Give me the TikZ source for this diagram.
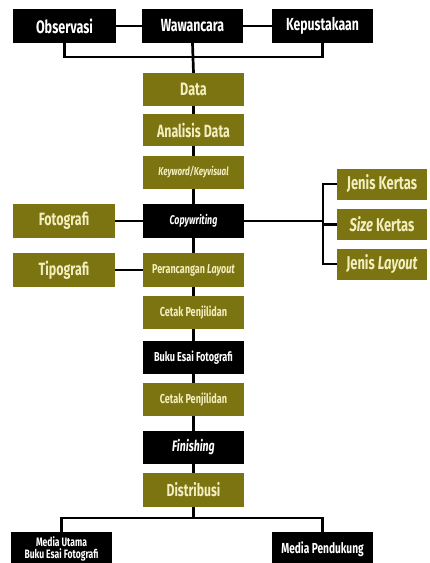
\documentclass[tikz,border=0pt]{standalone}
\usepackage{fontspec}
\setmainfont{Fira Sans}[FakeStretch=0.7]
\definecolor{olivebox}{HTML}{7B7410}
\definecolor{creamtext}{HTML}{F3EEC0}
\newcommand{\fs}[1]{\fontsize{#1}{#1}\selectfont\bfseries}
\begin{document}
\begin{tikzpicture}[x=1pt,y=-1pt,
  base/.style={inner sep=0pt, align=center, minimum width=101pt, minimum height=33pt},
  olv/.style={base, fill=olivebox, text=creamtext},
  blk/.style={base, fill=black, text=white},
  conn/.style={line width=2.7pt, black}]
\useasboundingbox (0,0) rectangle (429,563);
% top row
\node[blk, font=\fs{18}, minimum width=103pt, minimum height=34pt] (obs) at (64.5,26) {Observasi};
\node[blk, font=\fs{17.6}, minimum height=34pt] (waw) at (192.5,26) {Wawancara};
\node[blk, font=\fs{17.5}, minimum height=34pt] (kep) at (322.5,26) {Kepustakaan};
% central column
\node[olv, font=\fs{18}] (data) at (193.5,89.5) {Data};
\node[olv, font=\fs{17.7}, minimum height=32pt] (ana) at (193.5,130) {Analisis Data};
\node[olv, font=\fs{11.5}\itshape] (key) at (193.5,172.5) {Keyword/Keyvisual};
\node[blk, font=\fs{12.6}\itshape, minimum height=34pt] (copy) at (193.5,221) {Copywriting};
\node[olv, font=\fs{12.9}, minimum height=34pt] (peran) at (193.5,270) {Perancangan \textit{Layout}};
\node[olv, font=\fs{13}] (cetaka) at (193.5,312.5) {Cetak Penjilidan};
\node[blk, font=\fs{13}] (buku) at (193.5,357.5) {Buku Esai Fotografi};
\node[olv, font=\fs{13}] (cetakb) at (193.5,399.5) {Cetak Penjilidan};
\node[blk, font=\fs{15.1}\itshape] (fin) at (193.5,447.5) {Finishing};
\node[olv, font=\fs{17.4}, minimum height=34pt] (dist) at (193.5,490) {Distribusi};
% left side
\node[olv, font=\fs{17.8}, minimum width=102pt, minimum height=34pt] (foto) at (64,221) {Fotografi};
\node[olv, font=\fs{17.8}, minimum width=102pt, minimum height=34pt] (tipo) at (64,270) {Tipografi};
% right side
\node[olv, font=\fs{18.5}, minimum width=90pt, minimum height=31pt] (jk) at (382,184) {Jenis Kertas};
\node[olv, font=\fs{18.5}, minimum width=90pt, minimum height=31pt] (sk) at (382,224.5) {\textit{Size} Kertas};
\node[olv, font=\fs{18.5}, minimum width=90pt, minimum height=31pt] (jl) at (382,264) {Jenis \textit{Layout}};
% bottom
\node[blk, font={\fontsize{12.2}{12.4}\selectfont\bfseries}, minimum height=34pt] (mu) at (61.5,549) {Media Utama\\Buku Esai Fotografi};
\node[blk, font=\fs{14.5}, minimum height=34pt] (mp) at (322.5,549) {Media Pendukung};
% connectors top
\draw[conn] (obs.east) -- (waw.west);
\draw[conn] (waw.east) -- (kep.west);
\coordinate (busy) at (0,57);
\draw[conn] (obs.south) -- (obs.south |- busy) -- (kep.south |- busy) -- (kep.south);
\draw[conn] (waw.south) -- (data.north);
% column
\draw[conn] (data.south) -- (ana.north);
\draw[conn] (ana.south) -- (key.north);
\draw[conn] (key.south) -- (copy.north);
\draw[conn] (copy.south) -- (peran.north);
\draw[conn] (peran.south) -- (cetaka.north);
\draw[conn] (cetaka.south) -- (buku.north);
\draw[conn] (buku.south) -- (cetakb.north);
\draw[conn] (cetakb.south) -- (fin.north);
\draw[conn] (fin.south) -- (dist.north);
% sides
\draw[conn] (foto.east) -- (copy.west);
\draw[conn] (tipo.east) -- (peran.west);
\coordinate (brx) at (323,0);
\draw[conn] (copy.east) -- (copy.east -| brx);
\draw[conn] (jk.west) -- (jk.west -| brx) -- (jl.west -| brx) -- (jl.west);
\draw[conn] (sk.west) -- (sk.west -| brx);
% bottom bus
\coordinate (bby) at (0,518);
\draw[conn] (dist.south) -- (dist.south |- bby);
\draw[conn] (mu.north) -- (mu.north |- bby) -- (mp.north |- bby) -- (mp.north);
\end{tikzpicture}
\end{document}
